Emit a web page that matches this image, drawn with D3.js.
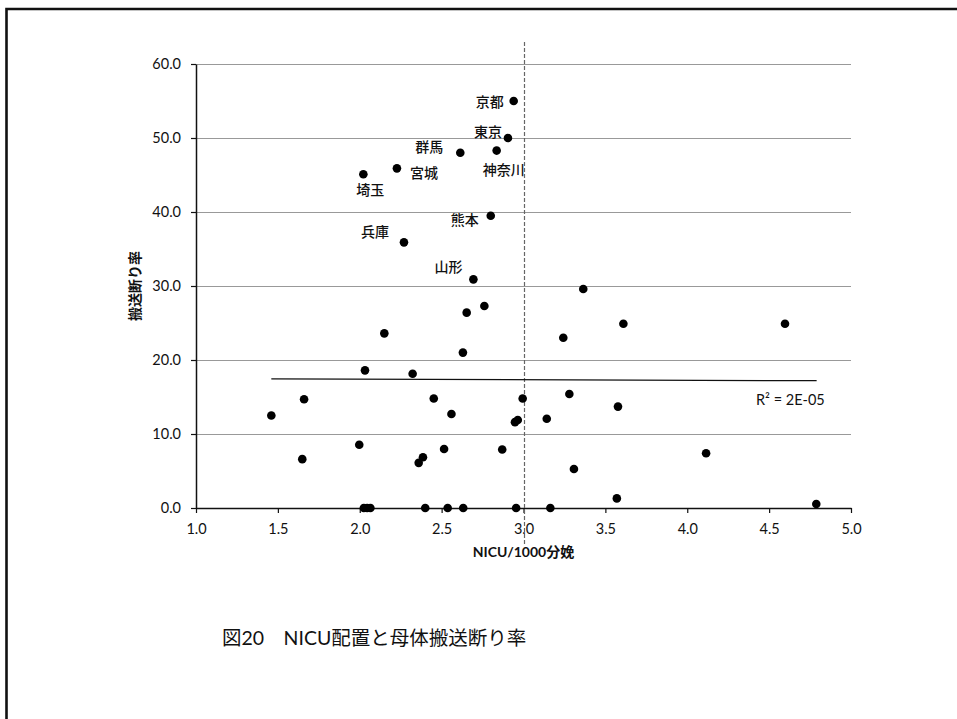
<!DOCTYPE html>
<html>
<head>
<meta charset="utf-8">
<script src="https://cdn.jsdelivr.net/npm/d3@7"></script>
<style>
  html, body { margin: 0; padding: 0; background: #fff; }
  svg { display: block; }
  text { font-family: "Lato", "Noto Sans CJK JP", sans-serif; fill: #111; }
  .jp { font-family: "Noto Sans CJK JP", sans-serif; }
</style>
</head>
<body>
<script>
// NICU beds per 1000 deliveries (x) vs. maternal transfer refusal rate % (y), by prefecture
const prefNames = ["京都", "東京", "神奈川", "群馬", "宮城", "埼玉", "熊本", "兵庫", "山形"];
const prefX = [2.94, 2.905, 2.836, 2.614, 2.227, 2.022, 2.80, 2.27, 2.694];
const prefY = [55.0, 50.0, 48.3, 48.0, 45.9, 45.1, 39.5, 35.9, 30.9];

const otherX = [2.653, 2.761, 2.15, 2.63, 2.032, 2.323, 1.46, 1.66, 1.649, 1.997,
                2.36, 2.386, 2.452, 2.515, 2.56, 2.87, 2.948, 2.965, 2.995, 3.142,
                2.025, 2.045, 2.065, 2.40, 2.537, 2.632, 2.955, 3.164,
                3.365, 3.61, 4.597, 3.243, 3.28, 3.577, 4.115, 3.308, 3.57, 4.788];
const otherY = [26.4, 27.3, 23.6, 21.0, 18.6, 18.15, 12.5, 14.7, 6.6, 8.55,
                6.1, 6.85, 14.8, 7.97, 12.7, 7.9, 11.6, 11.9, 14.8, 12.07,
                0, 0, 0, 0, 0, 0, 0, 0,
                29.6, 24.9, 24.9, 23.0, 15.4, 13.7, 7.4, 5.27, 1.3, 0.54];

// linear trend line (y = slope * x + intercept) and its fit
const trendSlope = -0.075;
const trendIntercept = 17.56;
const trendRange = [1.46, 4.79];
const trendLabel = "R² = 2E-05";

// national average reference line
const averageX = 3.0;

const xTicks = [1.0, 1.5, 2.0, 2.5, 3.0, 3.5, 4.0, 4.5, 5.0];
const yTicks = [0, 10, 20, 30, 40, 50, 60];

const xTitle = "NICU/1000分娩";
const yTitle = "搬送断り率";
const figTitle = "図20　NICU配置と母体搬送断り率";

// label placement around labelled points: [dx, dy, anchor]
const labelPlacement = {
  "京都": [-10, 0, "end"],
  "東京": [-6, -7, "end"],
  "神奈川": [7, 18, "middle"],
  "群馬": [-17, -7, "end"],
  "宮城": [13, 4, "start"],
  "埼玉": [7, 15, "middle"],
  "熊本": [-12, 3, "end"],
  "兵庫": [-15, -11, "end"],
  "山形": [-11, -13, "end"]
};

const W = 957, H = 719;
const svg = d3.select("body").append("svg").attr("width", W).attr("height", H);

// page frame (top and left edges)
svg.append("path")
  .attr("d", "M6.5,719 L6.5,9 L957,9")
  .attr("fill", "none").attr("stroke", "#111").attr("stroke-width", 2.6);

const x = d3.scaleLinear().domain([1, 5]).range([196, 851]);
const y = d3.scaleLinear().domain([0, 60]).range([508, 64]);

// horizontal gridlines
svg.append("g").selectAll("line")
  .data(yTicks.filter(d => d > 0))
  .join("line")
  .attr("x1", x(1)).attr("x2", x(5))
  .attr("y1", d => Math.round(y(d)) + 0.5).attr("y2", d => Math.round(y(d)) + 0.5)
  .attr("stroke", "#999").attr("stroke-width", 1);

// axes
const xAxis = d3.axisBottom(x).tickValues(xTicks).tickFormat(d3.format(".1f"))
  .tickSize(5).tickSizeOuter(0).tickPadding(11);
const yAxis = d3.axisLeft(y).tickValues(yTicks).tickFormat(d3.format(".1f"))
  .tickSize(5).tickSizeOuter(0).tickPadding(10);

const gx = svg.append("g").attr("transform", `translate(0,${y(0)})`).call(xAxis);
const gy = svg.append("g").attr("transform", `translate(${x(1)},0)`).call(yAxis);
[gx, gy].forEach(g => {
  g.select(".domain").attr("stroke", "#111").attr("stroke-width", 1.5);
  g.selectAll(".tick line").attr("stroke", "#111").attr("stroke-width", 1.2);
  g.selectAll(".tick text")
    .attr("font-family", "Lato, sans-serif").attr("font-size", 14.5).attr("fill", "#111");
});

// average reference line (dashed)
svg.append("line")
  .attr("x1", x(averageX) + 1).attr("x2", x(averageX) + 1)
  .attr("y1", 42).attr("y2", 546)
  .attr("stroke", "#666").attr("stroke-width", 1.2)
  .attr("stroke-dasharray", "4,2");

// trend line
svg.append("line")
  .attr("x1", x(trendRange[0])).attr("y1", y(trendSlope * trendRange[0] + trendIntercept))
  .attr("x2", x(trendRange[1])).attr("y2", y(trendSlope * trendRange[1] + trendIntercept))
  .attr("stroke", "#111").attr("stroke-width", 1.3);

svg.append("text")
  .attr("x", 756).attr("y", 405)
  .attr("font-size", 14.5)
  .text(trendLabel);

// points
const otherPts = otherX.map((v, i) => ({ x: v, y: otherY[i] }));
const prefPts = prefNames.map((n, i) => ({ name: n, x: prefX[i], y: prefY[i] }));

svg.append("g").selectAll("circle")
  .data(otherPts.concat(prefPts))
  .join("circle")
  .attr("cx", d => x(d.x)).attr("cy", d => y(d.y))
  .attr("r", 4.3).attr("fill", "#000");

// prefecture labels
svg.append("g").selectAll("text")
  .data(prefPts)
  .join("text")
  .attr("class", "jp")
  .attr("x", d => x(d.x) + labelPlacement[d.name][0])
  .attr("y", d => y(d.y) + labelPlacement[d.name][1])
  .attr("text-anchor", d => labelPlacement[d.name][2])
  .attr("dominant-baseline", "central")
  .attr("font-size", 14)
  .attr("font-weight", 500)
  .text(d => d.name);

// axis titles
svg.append("text")
  .attr("x", (x(1) + x(5)) / 2).attr("y", 557)
  .attr("text-anchor", "middle")
  .attr("font-size", 14).attr("font-weight", 700)
  .text(xTitle);

svg.append("text")
  .attr("class", "jp")
  .attr("transform", `translate(140,${(y(0) + y(60)) / 2}) rotate(-90)`)
  .attr("text-anchor", "middle")
  .attr("font-size", 14).attr("font-weight", 700)
  .text(yTitle);

// figure caption
svg.append("text")
  .attr("x", 222).attr("y", 645)
  .attr("font-size", 19.5)
  .text(figTitle);
</script>
</body>
</html>
